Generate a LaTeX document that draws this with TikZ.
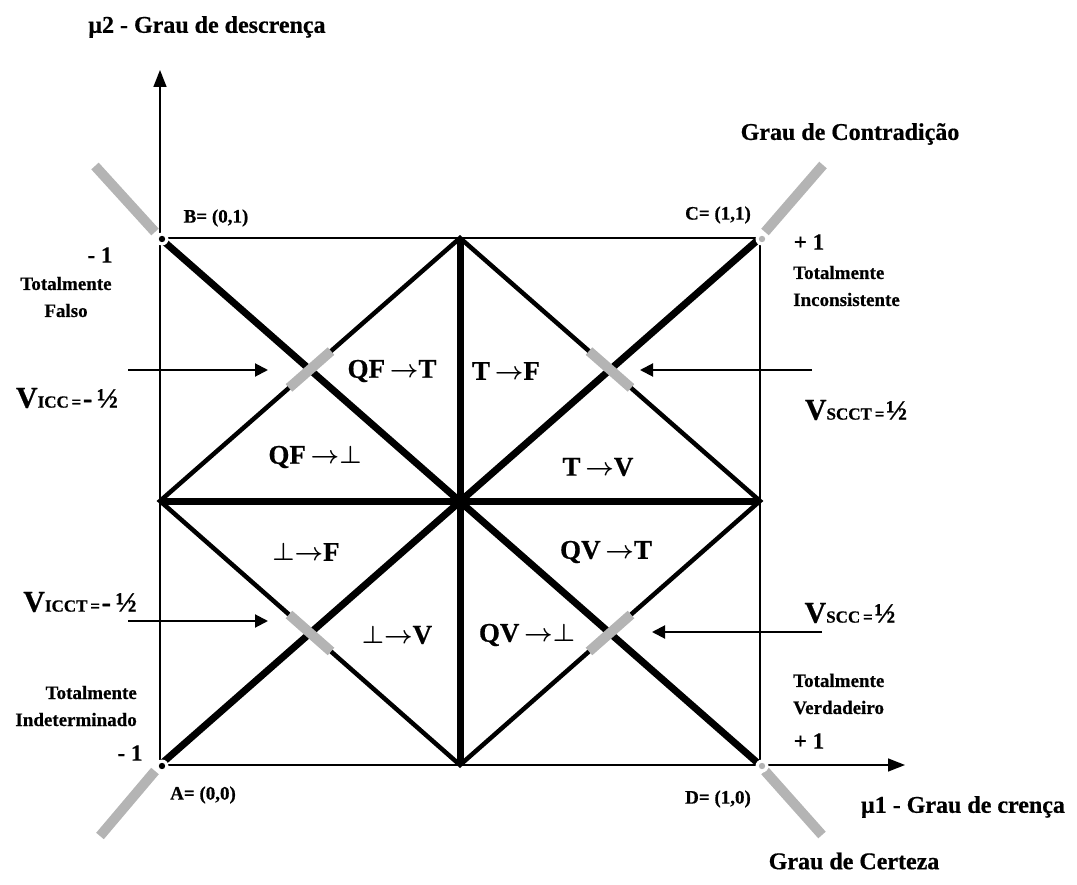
\documentclass[tikz,border=0pt]{standalone}
\usepackage{fontspec}
\setmainfont{Liberation Serif}[BoldFeatures={FakeBold=0.6}]
\usetikzlibrary{arrows.meta,calc}
\definecolor{bargrey}{RGB}{180,180,180}
\tikzset{
  thinline/.style={line width=1.5pt},
  diamline/.style={line width=4.5pt},
  heavyline/.style={line width=7pt},
  greybar/.style={line width=10pt, draw=bargrey},
  axis/.style={line width=1.5pt, -{Triangle[length=17pt,width=13pt]}},
  pointer/.style={line width=2pt, -{Triangle[length=13pt,width=13pt]}},
  biglbl/.style={font=\bfseries\fontsize{24}{26}\selectfont, inner sep=0pt},
  smalllbl/.style={font=\bfseries\fontsize{19}{27}\selectfont, inner sep=0pt},
  unitlbl/.style={font=\bfseries\fontsize{23}{25}\selectfont, inner sep=0pt},
  zonelbl/.style={font=\bfseries\boldmath\fontsize{27}{29}\selectfont, inner sep=0pt},
  vlbl/.style={font=\bfseries, inner sep=0pt}
}
\newcommand{\vname}[3]{{\fontsize{30}{30}\selectfont V}{\fontsize{17}{17}\selectfont #1\,=}\,{\fontsize{28}{28}\selectfont #2#3}}
\begin{document}
\begin{tikzpicture}[x=1pt,y=-1pt]
\useasboundingbox (0,0) rectangle (1077,885);

% corners and middle points
\coordinate (A) at (160,765);
\coordinate (B) at (160,238);
\coordinate (C) at (760,238);
\coordinate (D) at (760,765);
\coordinate (O) at (460,501);
\coordinate (N) at (460,238);
\coordinate (S) at (460,765);
\coordinate (W) at (160,501);
\coordinate (E) at (760,501);
\coordinate (ytip) at (160,70);
\coordinate (xtip) at (905,765);

% square and axes
\draw[thinline] (B) -- (C) -- (D);
\draw[axis] (A) -- (ytip);
\draw[axis] (A) -- (xtip);

% inner diamond
\draw[diamline, line join=miter] (W) -- (N) -- (E) -- (S) -- cycle;

% heavy lines
\draw[heavyline] (B) -- (D);
\draw[heavyline] (A) -- (C);
\draw[heavyline] (N) -- (S);
\draw[heavyline] (W) -- (E);

% grey bars on the diamond
\draw[greybar] ($(W)!0.43!(N)$) -- ($(W)!0.57!(N)$);
\draw[greybar] ($(N)!0.43!(E)$) -- ($(N)!0.57!(E)$);
\draw[greybar] ($(W)!0.43!(S)$) -- ($(W)!0.57!(S)$);
\draw[greybar] ($(S)!0.43!(E)$) -- ($(S)!0.57!(E)$);

% grey bars at the corners
\draw[greybar] ($(B)+(-5,-6)$) -- ($(B)+(-65,-72)$);
\draw[greybar] ($(C)+(5,-6)$) -- ($(C)+(63,-73)$);
\draw[greybar] ($(A)+(-5,6)$) -- ($(A)+(-60,71)$);
\draw[greybar] ($(D)+(5,6)$) -- ($(D)+(62,70)$);

% corner dots
\foreach \p/\c in {A/black,B/black,C/bargrey,D/bargrey} {
  \fill[white] ($(\p)+(2,1)$) circle (6.5pt);
  \fill[\c] ($(\p)+(2,1)$) circle (3.2pt);
}

% pointers
\coordinate (p1s) at (128,370); \coordinate (p1e) at (268,370);
\coordinate (p2s) at (812,370); \coordinate (p2e) at (640,370);
\coordinate (p3s) at (128,621); \coordinate (p3e) at (268,621);
\coordinate (p4s) at (822,632); \coordinate (p4e) at (652,632);
\draw[pointer] (p1s) -- (p1e);
\draw[pointer] (p2s) -- (p2e);
\draw[pointer] (p3s) -- (p3e);
\draw[pointer] (p4s) -- (p4e);

% axis titles
\node[biglbl] (mu2) at (207,27) {μ2 - Grau de descrença};
\node[biglbl] (mu1) at (963,807) {μ1 - Grau de crença};
\node[biglbl] (contr) at (850,134) {Grau de Contradição};
\node[biglbl] (cert) at (854,861) {Grau de Certeza};

% corner labels
\node[smalllbl] (lA) at (203,795) {A= (0,0)};
\node[smalllbl] (lB) at (216,218) {B= (0,1)};
\node[smalllbl] (lC) at (718,215) {C= (1,1)};
\node[smalllbl] (lD) at (718,799) {D= (1,0)};
\node[unitlbl] (uB) at (100,255) {- 1};
\node[unitlbl] (uA) at (130,753) {- 1};
\node[unitlbl] (uC) at (809,242) {+ 1};
\node[unitlbl] (uD) at (809,741) {+ 1};
\node[smalllbl, align=center] (falso) at (66,297) {Totalmente\\Falso};
\node[smalllbl, align=left, anchor=west] (incons) at (793,286) {Totalmente\\Inconsistente};
\node[smalllbl, align=right, anchor=east] (indet) at (137,706) {Totalmente\\Indeterminado};
\node[smalllbl, align=left, anchor=west] (verd) at (793,694) {Totalmente\\Verdadeiro};

% limit values
\node[vlbl] (vicc) at (67,398) {\vname{ICC}{-\,}{½}};
\node[vlbl] (vscct) at (856,410) {\vname{SCCT}{}{½}};
\node[vlbl] (vicct) at (80,602) {\vname{ICCT}{-\,}{½}};
\node[vlbl] (vscc) at (850,613) {\vname{SCC}{}{½}};

% regions
\node[zonelbl] (qft) at (392,371) {QF$\,\rightarrow$T};
\node[zonelbl] (tf) at (506,371) {T$\,\rightarrow$F};
\node[zonelbl] (qfb) at (315,457) {QF$\,\rightarrow\perp$};
\node[zonelbl] (tv) at (598,467) {T$\,\rightarrow$V};
\node[zonelbl] (bf) at (306,552) {$\perp\rightarrow$F};
\node[zonelbl] (qvt) at (606,552) {QV$\,\rightarrow$T};
\node[zonelbl] (bv) at (397,635) {$\perp\rightarrow$V};
\node[zonelbl] (qvb) at (527,635) {QV$\,\rightarrow\perp$};

\end{tikzpicture}
\end{document}
